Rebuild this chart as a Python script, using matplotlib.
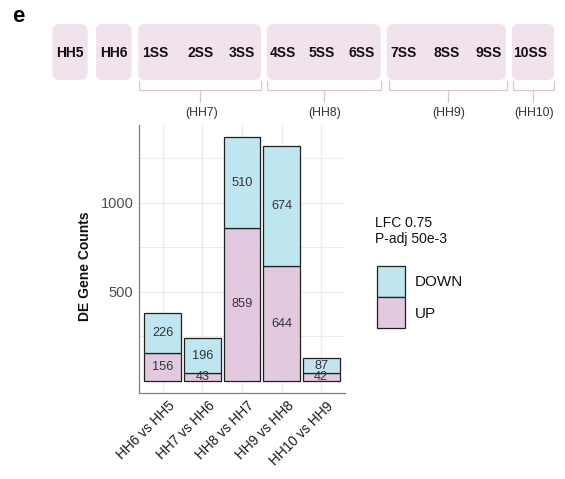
import matplotlib
matplotlib.use("Agg")
import matplotlib.pyplot as plt
from matplotlib.patches import FancyBboxPatch, Rectangle
import numpy as np

plt.rcParams["font.family"] = ["Liberation Sans", "DejaVu Sans"]

# ---- data ----
comparisons = ["HH6 vs HH5", "HH7 vs HH6", "HH8 vs HH7", "HH9 vs HH8", "HH10 vs HH9"]
up_counts = [156, 43, 859, 644, 42]
down_counts = [226, 196, 510, 674, 87]
y_ticks = [500, 1000]
y_minor = [250, 750, 1250]

stage_boxes = [["HH5"], ["HH6"], ["1SS", "2SS", "3SS"], ["4SS", "5SS", "6SS"],
               ["7SS", "8SS", "9SS"], ["10SS"]]
stage_groups = ["(HH7)", "(HH8)", "(HH9)", "(HH10)"]
legend_title = "LFC 0.75\nP-adj 50e-3"
legend_labels = ["DOWN", "UP"]

UP_COLOR = "#E3C9DF"
DOWN_COLOR = "#BEE5F0"
EDGE = "#1f1f1f"
BOX_COLOR = "#F1E3ED"
BRACKET_COLOR = "#E0C3D8"

W, H = 565, 479
fig = plt.figure(figsize=(W / 100, H / 100), dpi=100)

# ---- overlay in pixel units for annotations ----
ov = fig.add_axes([0, 0, 1, 1])
ov.set_xlim(0, W)
ov.set_ylim(0, H)
ov.axis("off")


def py(y):
    return H - y


# panel letter
ov.text(12, py(16), "e", fontsize=16, fontweight="bold", va="center", ha="left")

# rounded stage boxes
box_spans = [(52.3, 87.7), (96, 131.7), (138.3, 261), (266.7, 380.7), (386.7, 506), (511.7, 554.3)]
label_x = [[70], [113.5], [155, 200.7, 242.3], [283.3, 321.7, 361.7],
           [403.3, 446.7, 488.3], [530]]
box_top, box_bot = 24, 80
for (x0, x1), labels, xs in zip(box_spans, stage_boxes, label_x):
    ov.add_patch(FancyBboxPatch((x0, py(box_bot)), x1 - x0, box_bot - box_top,
                                boxstyle="round,pad=0,rounding_size=7",
                                facecolor=BOX_COLOR, edgecolor="none", zorder=1))
    for lab, x in zip(labels, xs):
        ov.text(x, py(52.7), lab, fontsize=10, fontweight="bold",
                ha="center", va="center", color="#111111", zorder=2)

# brackets under somite-stage boxes
bracket_spans = [(139.3, 261), (266.7, 380.7), (389, 506.7), (512.7, 554)]
for (x0, x1), lab in zip(bracket_spans, stage_groups):
    xc = (x0 + x1) / 2
    ov.plot([x0, x0, x1, x1], [py(81), py(90), py(90), py(81)],
            color=BRACKET_COLOR, lw=0.9, solid_joinstyle="miter")
    ov.plot([xc, xc], [py(90), py(101.5)], color=BRACKET_COLOR, lw=0.9)
    ov.text(xc + 1, py(112.7), lab, fontsize=8.8, ha="center", va="center",
            color="#333333")

# ---- bar chart ----
ax = fig.add_axes([139 / W, 1 - 393 / H, (345 - 139) / W, (393 - 125) / H])
x = np.arange(len(comparisons))
width = 0.93
totals = np.array(up_counts) + np.array(down_counts)
ax.bar(x, up_counts, width=width, color=UP_COLOR, edgecolor=EDGE, linewidth=0.9, zorder=3)
ax.bar(x, down_counts, width=width, bottom=up_counts, color=DOWN_COLOR,
       edgecolor=EDGE, linewidth=0.9, zorder=3)

for i in range(len(x)):
    ax.text(x[i], up_counts[i] / 2, str(up_counts[i]), ha="center", va="center",
            fontsize=9.2, color="#333333", zorder=4)
    ax.text(x[i], up_counts[i] + down_counts[i] / 2, str(down_counts[i]),
            ha="center", va="center", fontsize=9.2, color="#333333", zorder=4)

ymax = totals.max()
ax.set_ylim(-0.05 * ymax, 1.05 * ymax)
ax.set_xlim(-0.6, len(x) - 0.4)
ax.set_yticks(y_ticks)
ax.set_yticks(y_minor, minor=True)
ax.set_xticks(x)
ax.set_xticklabels([])
ax.tick_params(axis="both", which="both", length=0)
ax.tick_params(axis="y", labelsize=10.5, labelcolor="#4D4D4D", pad=4)
ax.grid(True, which="major", color="#EBEBEB", lw=1.0, zorder=0)
ax.grid(True, which="minor", axis="y", color="#EBEBEB", lw=0.7, zorder=0)
ax.set_axisbelow(True)
for s in ["top", "right"]:
    ax.spines[s].set_visible(False)
for s in ["left", "bottom"]:
    ax.spines[s].set_color("#808080")
    ax.spines[s].set_linewidth(0.9)

# rotated category labels
for xi, lab in zip(x, comparisons):
    xp, _ = ax.transData.transform((xi, 0))
    ov.text(xp + 5, py(399), lab, rotation=45, rotation_mode="anchor",
            ha="right", va="top", fontsize=9.8, color="#1a1a1a")

# y-axis title
ov.text(85, py(266.5), "DE Gene Counts", rotation=90, fontsize=10,
        fontweight="bold", ha="center", va="center", color="#111111")

# ---- legend ----
ov.text(375, py(231), legend_title, fontsize=10, ha="left", va="center",
        color="#111111", linespacing=1.25)
key_x0, key_x1 = 376.7, 405
key_edges = [265.7, 296.7, 328.3]
for i, (lab, col) in enumerate(zip(legend_labels, [DOWN_COLOR, UP_COLOR])):
    y0, y1 = key_edges[i], key_edges[i + 1]
    ov.add_patch(Rectangle((key_x0, py(y1)), key_x1 - key_x0, y1 - y0,
                           facecolor=col, edgecolor=EDGE, linewidth=0.9))
    ov.text(415, py((y0 + y1) / 2 + 1), lab, fontsize=11, ha="left",
            va="center", color="#111111")

fig.savefig("out.png", dpi=100)
